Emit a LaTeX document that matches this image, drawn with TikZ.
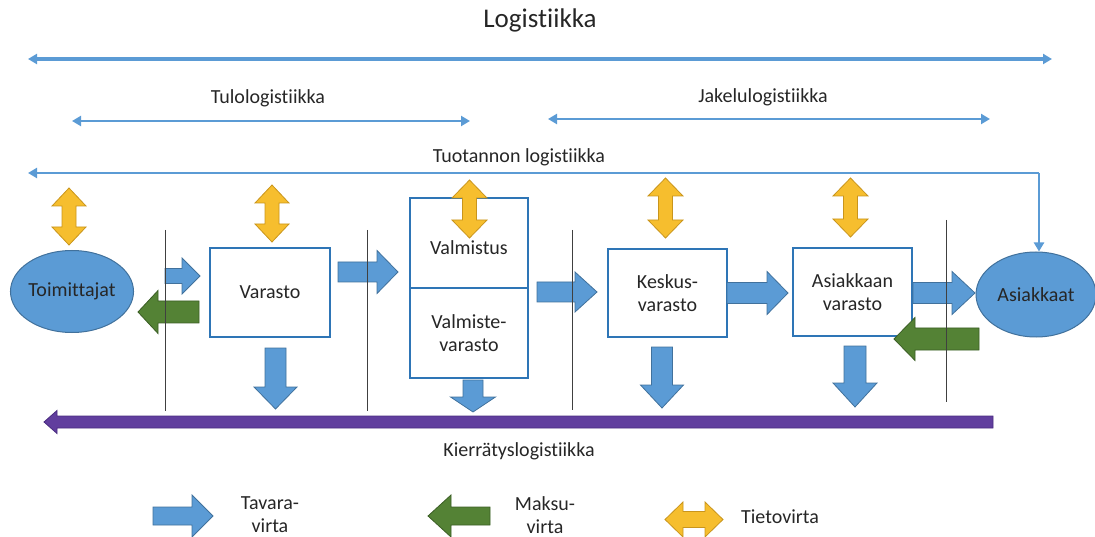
\documentclass[tikz,border=0pt]{standalone}
\usepackage{fontspec}
\setmainfont[RawFeature={-liga;-clig;-dlig}]{Carlito}
\usetikzlibrary{arrows.meta,shapes.geometric}

\definecolor{lineblue}{HTML}{5B9BD5}
\definecolor{fillblue}{HTML}{5B9BD5}
\definecolor{edgeblue}{HTML}{41719C}
\definecolor{boxblue}{HTML}{2E75B6}
\definecolor{gold}{HTML}{F6BE2E}
\definecolor{golddark}{HTML}{C9951C}
\definecolor{mgreen}{HTML}{548235}
\definecolor{mgreendark}{HTML}{3B5E25}
\definecolor{purp}{HTML}{613E9E}
\definecolor{purpdark}{HTML}{4A2C80}
\definecolor{txt}{HTML}{262626}

% block arrow along x: style, tail, head base, tip, centre y, shaft half width, head half width
\newcommand\hblock[7]{\path[#1] ({#2},{#5-#6}) -- ({#3},{#5-#6}) -- ({#3},{#5-#7}) -- ({#4},{#5}) -- ({#3},{#5+#7}) -- ({#3},{#5+#6}) -- ({#2},{#5+#6}) -- cycle;}
% block arrow along y: style, tail, head base, tip, centre x, shaft half width, head half width
\newcommand\vblock[7]{\path[#1] ({#5-#6},{#2}) -- ({#5-#6},{#3}) -- ({#5-#7},{#3}) -- ({#5},{#4}) -- ({#5+#7},{#3}) -- ({#5+#6},{#3}) -- ({#5+#6},{#2}) -- cycle;}
% vertical double arrow: style, centre x, top, upper head base, lower head base, bottom, shaft half, head half
\newcommand\vdouble[8]{\path[#1] ({#2},{#3}) -- ({#2+#8},{#4}) -- ({#2+#7},{#4}) -- ({#2+#7},{#5}) -- ({#2+#8},{#5}) -- ({#2},{#6}) -- ({#2-#8},{#5}) -- ({#2-#7},{#5}) -- ({#2-#7},{#4}) -- ({#2-#8},{#4}) -- cycle;}
% horizontal double arrow: style, centre y, left, left head base, right head base, right, shaft half, head half
\newcommand\hdouble[8]{\path[#1] ({#3},{#2}) -- ({#4},{#2-#8}) -- ({#4},{#2-#7}) -- ({#5},{#2-#7}) -- ({#5},{#2-#8}) -- ({#6},{#2}) -- ({#5},{#2+#8}) -- ({#5},{#2+#7}) -- ({#4},{#2+#7}) -- ({#4},{#2+#8}) -- cycle;}

\begin{document}
\begin{tikzpicture}[x=1pt, y=-1pt,
  lbl/.style={font=\fontsize{20}{23}\selectfont, text=txt, inner sep=0pt, align=center},
  title/.style={font=\fontsize{27}{32}\selectfont, text=txt, inner sep=0pt},
  box/.style={draw=boxblue, line width=2.6pt, fill=white, inner sep=0pt, align=center,
              font=\fontsize{20}{23}\selectfont, text=txt},
  party/.style={ellipse, draw=edgeblue, fill=fillblue, line width=1pt, inner sep=0pt,
                font=\fontsize{20}{23}\selectfont, text=txt},
  goods/.style={fill=fillblue, draw=edgeblue, line width=0.8pt},
  money/.style={fill=mgreen, draw=mgreendark, line width=0.8pt},
  info/.style={fill=gold, draw=golddark, line width=0.8pt},
  recycle/.style={fill=purp, draw=purpdark, line width=0.8pt},
  spanline/.style={draw=lineblue, line width=3.2pt,
                   {Triangle[length=9pt,width=10pt]}-{Triangle[length=9pt,width=10pt]}},
  flowline/.style={draw=lineblue, line width=2.4pt},
  sepline/.style={draw=black!75, line width=0.9pt}]

\useasboundingbox (0,0) rectangle (1095,537);

% headings and span arrows
\node[title] (tLog) at (540,20) {Logistiikka};
\coordinate (logL) at (28,59);
\coordinate (logR) at (1052,59);
\draw[spanline] (logL) -- (logR);

\node[lbl] (tTulo) at (268,98) {Tulologistiikka};
\coordinate (tuloL) at (72,121);
\coordinate (tuloR) at (470,121);
\draw[spanline, line width=2.8pt] (tuloL) -- (tuloR);

\node[lbl] (tJakelu) at (763,97) {Jakelulogistiikka};
\coordinate (jakL) at (548,119);
\coordinate (jakR) at (990,119);
\draw[spanline, line width=2.8pt] (jakL) -- (jakR);

\node[lbl] (tTuot) at (519,157) {Tuotannon logistiikka};

% parties
\node[party, minimum width=122pt, minimum height=82pt] (toim) at (72,291.5) {Toimittajat};
\node[party, minimum width=120pt, minimum height=85pt] (asiak) at (1036,294.5) {Asiakkaat};

% production line spanning the chain
\coordinate (tuotL) at (28,173);
\coordinate (tuotC) at (1039,173);
\draw[flowline, -{Triangle[length=9pt,width=10pt]}] (tuotC) -- (tuotL);
\draw[flowline, -{Triangle[length=9pt,width=10pt]}] (tuotC) -- (tuotC |- asiak.north);

% storage boxes
\node[box, minimum width=120pt, minimum height=89pt] (varasto) at (270,292.5) {Varasto};
\node[box, minimum width=118pt, minimum height=90pt] (valm) at (469,243) {};
\node[box, minimum width=118pt, minimum height=90pt] (valmv) at (469,333) {};
\node[lbl] (tValm) at (469,248) {Valmistus};
\node[lbl] (tValmv) at (469,333) {Valmiste-\\varasto};
\node[box, minimum width=119pt, minimum height=88pt] (kesk) at (667.5,293) {Keskus-\\varasto};
\node[box, minimum width=119pt, minimum height=88pt] (asvar) at (852.5,292) {Asiakkaan\\varasto};

% information flows
\vdouble{info}{69}{188}{206}{227}{245}{7}{17}
\vdouble{info}{272}{185}{203}{224}{242}{7}{17}
\vdouble{info}{469.5}{180}{198}{220}{238}{7}{17.5}
\vdouble{info}{665.5}{178}{196}{220}{238}{7}{17.5}
\vdouble{info}{850.5}{178}{196}{219}{237}{7}{17.5}

% goods flows along the chain
\hblock{goods}{165}{182}{200}{276}{7.5}{18}
\hblock{goods}{338}{377}{398}{272}{10}{21.5}
\hblock{goods}{537}{575}{597}{292}{10}{20}
\hblock{goods}{727}{767}{788}{293}{10.5}{21.5}
\hblock{goods}{913}{952}{975}{293}{10.5}{21.5}

% payment flows
\hblock{money}{199}{158}{138}{312}{11}{21.5}
\hblock{money}{979}{915}{894}{339}{11}{21.5}

% goods flows into recycling
\vblock{goods}{348}{387}{409}{275.5}{10.5}{21.5}
\vblock{goods}{380}{397}{412}{473}{10}{22.5}
\vblock{goods}{347}{385}{408}{662}{10.5}{21.5}
\vblock{goods}{346}{383}{407}{855}{11}{22}

% stage separators
\coordinate (s1t) at (165,230); \coordinate (s1b) at (165,411);
\coordinate (s2t) at (367,230); \coordinate (s2b) at (367,411);
\coordinate (s3t) at (572,230); \coordinate (s3b) at (572,410);
\coordinate (s4t) at (946,220); \coordinate (s4b) at (946,402);
\draw[sepline] (s1t) -- (s1b);
\draw[sepline] (s2t) -- (s2b);
\draw[sepline] (s3t) -- (s3b);
\draw[sepline] (s4t) -- (s4b);

% recycling logistics
\hblock{recycle}{993}{57}{44}{422}{6}{11.5}
\node[lbl] (tKierr) at (519,451) {Kierrätyslogistiikka};

% legend
\hblock{goods}{153}{192}{213}{516}{9}{21}
\node[lbl] (lgGoods) at (270,515) {Tavara-\\virta};
\hblock{money}{490}{451}{428}{516}{9}{21}
\node[lbl] (lgMoney) at (545,515) {Maksu-\\virta};
\hdouble{info}{519.5}{665}{683}{705}{723}{8}{17.5}
\node[lbl] (lgInfo) at (780,517) {Tietovirta};

\end{tikzpicture}
\end{document}
